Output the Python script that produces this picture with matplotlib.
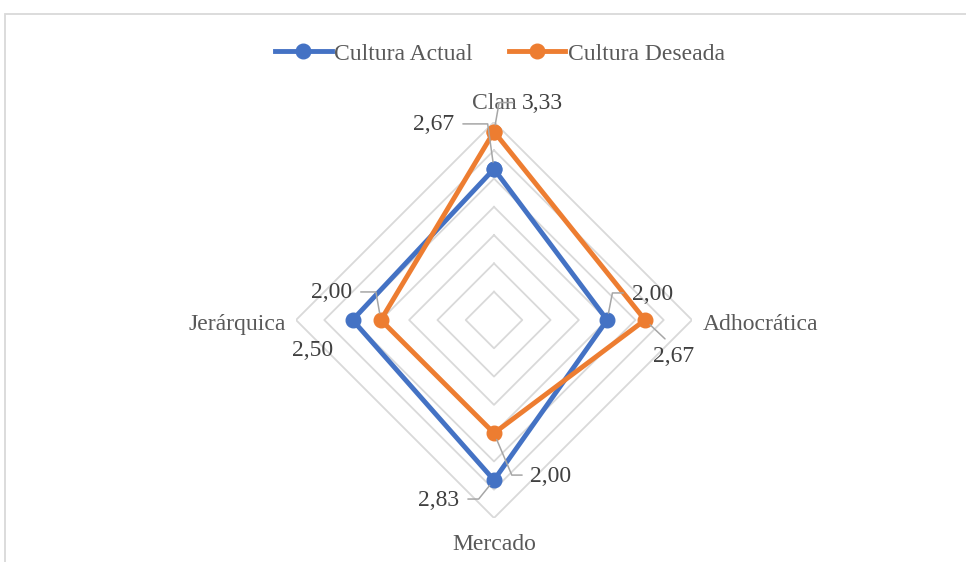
import numpy as np
import matplotlib
matplotlib.use("Agg")
import matplotlib.pyplot as plt
from matplotlib.lines import Line2D
from matplotlib.patches import Rectangle

plt.rcParams["font.family"] = ["Liberation Serif", "DejaVu Serif"]

# Data
categories = ["Clan", "Adhocrática", "Mercado", "Jerárquica"]
series_names = ["Cultura Actual", "Cultura Deseada"]
actual = [2.67, 2.00, 2.83, 2.50]
deseada = [3.33, 2.67, 2.00, 2.00]
ring_levels = [0.5, 1.0, 1.5, 2.0, 2.5, 3.0, 3.5]

BLUE = "#4472C4"
ORANGE = "#ED7D31"
GRID = "#D9D9D9"
TXT = "#595959"
LBL = "#404040"
LEADER = "#A6A6A6"
FS = 17

W, H = 966, 562
fig = plt.figure(figsize=(W / 100, H / 100), dpi=100)

# chart area border (top and left edges visible)
fig.patches.append(Rectangle((5 / W, -0.2), 1.2, (H - 14) / H + 0.2,
                             transform=fig.transFigure, fill=False,
                             edgecolor=GRID, linewidth=1.3))

cx, cy, R = 494, 320, 198
ax = fig.add_axes([(cx - R) / W, (H - cy - R) / H, 2 * R / W, 2 * R / H],
                  projection="polar")
ax.set_theta_zero_location("N")
ax.set_theta_direction(-1)
rmax = max(ring_levels)
ax.set_ylim(0, rmax)
ax.grid(False)
ax.set_xticks([])
ax.set_yticks([])
ax.spines["polar"].set_visible(False)
ax.patch.set_alpha(0)

n = len(categories)
theta = np.linspace(0, 2 * np.pi, n, endpoint=False)
theta_c = np.append(theta, theta[0])

# diamond grid rings
for lv in ring_levels:
    ax.plot(theta_c, [lv] * (n + 1), color=GRID, lw=1.3, zorder=1)

# series
for vals, col in ((actual, BLUE), (deseada, ORANGE)):
    v = np.append(vals, vals[0])
    ax.plot(theta_c, v, color=col, lw=3.5, marker="o", markersize=10.5,
            zorder=3, solid_joinstyle="miter")

# category labels, offset in pixels from the outer ring vertex
cat_style = [
    dict(off=(0, 18.5), ha="center"),
    dict(off=(11, -4.5), ha="left"),
    dict(off=(0, -26.5), ha="center"),
    dict(off=(-10, -4.5), ha="right"),
]
for t, name, st in zip(theta, categories, cat_style):
    ax.annotate(name, xy=(t, rmax), xytext=st["off"],
                textcoords="offset pixels", ha=st["ha"], va="center",
                fontsize=FS, color=TXT, annotation_clip=False)

# data labels with leader lines (offsets in pixels from the marker)
def fmt(v):
    return f"{v:.2f}".replace(".", ",")

label_style = {
    ("a", 0): dict(off=(-60, 44), relpos=(1, 0.55), cs="angle,angleA=0,angleB=98,rad=0"),
    ("d", 0): dict(off=(48, 28), relpos=(0, 0.55), cs="angle,angleA=180,angleB=80,rad=0"),
    ("a", 1): dict(off=(45, 26), relpos=(0, 0.55), cs="angle,angleA=180,angleB=79,rad=0"),
    ("d", 1): dict(off=(29, -36), relpos=(0.45, 1), cs="arc3,rad=0"),
    ("a", 2): dict(off=(-55, -20), relpos=(1, 0.55), cs="angle,angleA=0,angleB=51,rad=0"),
    ("d", 2): dict(off=(57, -43), relpos=(0, 0.55), cs="angle,angleA=180,angleB=-67,rad=0"),
    ("a", 3): dict(off=(-40, -30), relpos=None, cs=None),
    ("d", 3): dict(off=(-49, 27), relpos=(1, 0.55), cs="angle,angleA=0,angleB=100,rad=0"),
}
for key, vals in (("a", actual), ("d", deseada)):
    for i, (t, v) in enumerate(zip(theta, vals)):
        st = label_style[(key, i)]
        kw = {}
        if st["cs"] is not None:
            kw["arrowprops"] = dict(arrowstyle="-", color=LEADER, lw=1.1,
                                    connectionstyle=st["cs"],
                                    relpos=st["relpos"], shrinkA=4, shrinkB=5)
        ax.annotate(fmt(v), xy=(t, v), xytext=st["off"],
                    textcoords="offset pixels", ha="center", va="center",
                    fontsize=FS, color=LBL, annotation_clip=False, zorder=5,
                    **kw)

# legend
handles = [Line2D([], [], color=BLUE, lw=3.5, marker="o", markersize=10.5),
           Line2D([], [], color=ORANGE, lw=3.5, marker="o", markersize=10.5)]
leg = fig.legend(handles, series_names, loc="center", ncol=2,
                 bbox_to_anchor=(500 / W, 1 - 54 / H), frameon=False,
                 fontsize=FS, handlelength=2.4, handletextpad=0.12,
                 columnspacing=1.5)
for txt in leg.get_texts():
    txt.set_color(TXT)

fig.savefig("out.png", dpi=100, facecolor="white")
